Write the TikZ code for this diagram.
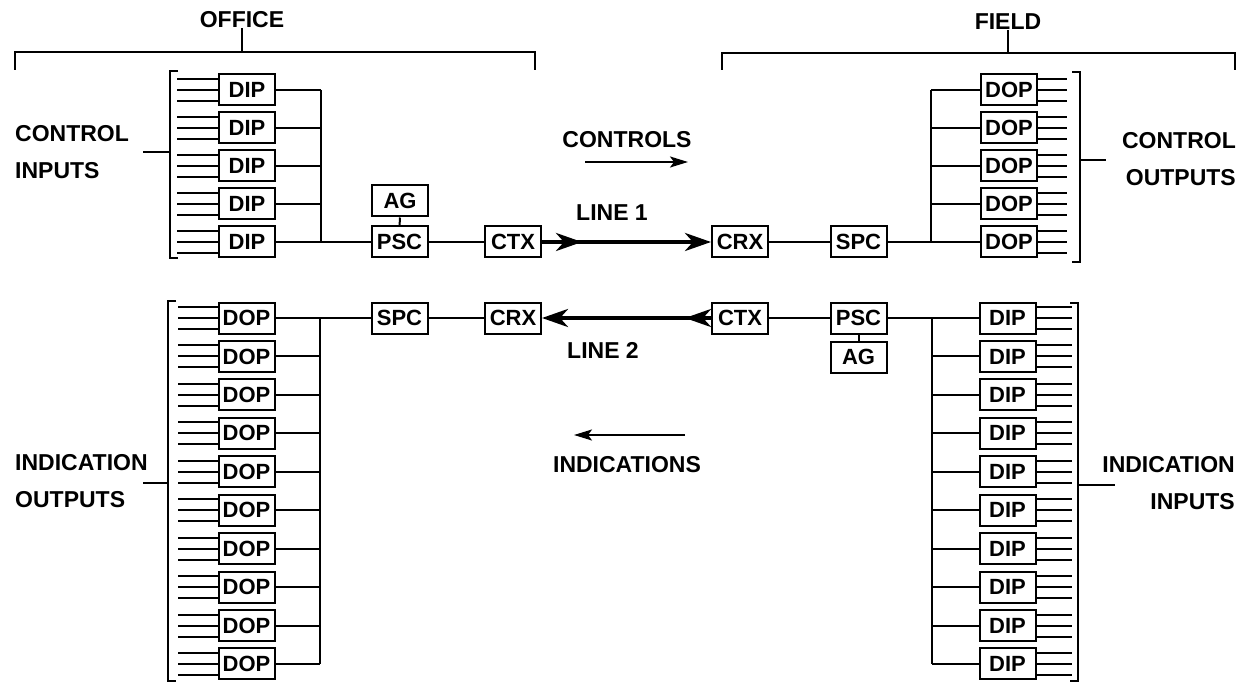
\documentclass[tikz,border=0pt]{standalone}
\usepackage{fontspec}
\setmainfont{Liberation Sans}
\usetikzlibrary{arrows.meta,decorations.markings}
\begin{document}
\begin{tikzpicture}[x=1pt,y=-1pt,
  box/.style={draw,line width=2pt,minimum width=56pt,minimum height=31pt,inner sep=0pt,font=\fontsize{22}{22}\selectfont\bfseries},
  lbl/.style={font=\fontsize{23}{37}\selectfont\bfseries,inner sep=0pt},
  wire/.style={line width=2pt},
  heavy/.style={line width=4pt,-{Stealth[length=26pt,width=18pt,inset=8pt]},
    postaction={decorate,decoration={markings,mark=at position #1 with {\arrow{Stealth[length=26pt,width=18pt,inset=8pt]}}}}},
  dirarrow/.style={line width=2pt,-{Stealth[length=18pt,width=11pt,inset=4pt]}}
]
\useasboundingbox (0,0) rectangle (1238,684);

% ---------- titles and brackets ----------
\node[lbl] (office) at (242,20) {OFFICE};
\node[lbl] (field) at (1008,22) {FIELD};
\draw[wire] (15,70) -- (15,52) -- (535,52) -- (535,70);
\draw[wire] (242,52) -- (office.south);
\draw[wire] (722,70) -- (722,53) -- (1235,53) -- (1235,70);
\draw[wire] (1008,53) -- (field.south);

% ---------- side labels ----------
\node[lbl,anchor=west,align=left] (ci) at (15,152) {CONTROL\\INPUTS};
\node[lbl,anchor=east,align=right] (co) at (1236,159) {CONTROL\\OUTPUTS};
\node[lbl,anchor=west,align=left] (io) at (15,481) {INDICATION\\OUTPUTS};
\node[lbl,anchor=east,align=right] (ii) at (1235,483) {INDICATION\\INPUTS};

% ---------- middle labels ----------
\node[lbl] (controls) at (627,140) {CONTROLS};
\node[lbl] (indications) at (627,465) {INDICATIONS};
\node[lbl] (line1) at (612,213) {LINE 1};
\node[lbl] (line2) at (603,350) {LINE 2};
\coordinate (ca) at (585,162); \coordinate (cb) at (688,162);
\draw[dirarrow] (ca) -- (cb);
\coordinate (ia) at (685,435); \coordinate (ib) at (574,435);
\draw[dirarrow] (ia) -- (ib);

% ---------- top left: DIP group ----------
\foreach \i in {1,...,5} {
  \pgfmathsetmacro{\yy}{90+38*(\i-1)}
  \node[box] (dipL\i) at (247,\yy) {DIP};
  \foreach \d in {-11,0,11}
    \draw[wire] ([yshift=\d pt]dipL\i.west) -- ++(-41,0);
  \draw[wire] (dipL\i.east) -- (321,\yy);
}
\draw[wire] (321,90) -- (321,242);
\draw[wire] (178,71) -- (170,71) -- (170,258) -- (178,258);
\draw[wire] (143,152) -- (170,152);

\node[box] (agL) at (400,201) {AG};
\node[box] (pscL) at (399.5,242) {PSC};
\node[box] (ctxL) at (513,242) {CTX};
\draw[wire] (dipL5.east) -- (pscL.west);
\draw[wire] (agL) -- (pscL);
\draw[wire] (pscL) -- (ctxL);

% ---------- top right: DOP group ----------
\node[box] (crxR) at (740,242) {CRX};
\node[box] (spcR) at (858.5,242) {SPC};
\foreach \i in {1,...,5} {
  \pgfmathsetmacro{\yy}{90+38*(\i-1)}
  \node[box] (dopR\i) at (1009,\yy) {DOP};
  \foreach \d in {-11,0,11}
    \draw[wire] ([yshift=\d pt]dopR\i.east) -- ++(29,0);
  \draw[wire] (dopR\i.west) -- (931,\yy);
}
\draw[wire] (931,90) -- (931,242);
\draw[wire] (1072,72) -- (1080,72) -- (1080,262) -- (1072,262);
\draw[wire] (1080,160) -- (1106,160);
\draw[wire] (crxR) -- (spcR);
\draw[wire] (spcR.east) -- (dopR5.west);

% ---------- line 1 ----------
\draw[heavy=40pt] (ctxL.east) -- (crxR.west);

% ---------- bottom left: DOP group ----------
\node[box] (spcL) at (399.5,318) {SPC};
\node[box] (crxL) at (513,318) {CRX};
\foreach \i in {1,...,10} {
  \pgfmathsetmacro{\yy}{318+38.44*(\i-1)}
  \node[box] (dopL\i) at (246.5,\yy) {DOP};
  \foreach \d in {-11,0,11}
    \draw[wire] ([yshift=\d pt]dopL\i.west) -- ++(-40,0);
  \draw[wire] (dopL\i.east) -- (320,\yy);
}
\draw[wire] (320,318) -- (320,664);
\draw[wire] (176,301) -- (168,301) -- (168,681) -- (176,681);
\draw[wire] (143,483) -- (168,483);
\draw[wire] (dopL1.east) -- (spcL.west);
\draw[wire] (spcL) -- (crxL);

% ---------- bottom right: DIP group ----------
\node[box] (ctxR) at (740,318) {CTX};
\node[box] (pscR) at (858.5,318) {PSC};
\node[box] (agR) at (858.5,357) {AG};
\foreach \i in {1,...,10} {
  \pgfmathsetmacro{\yy}{318+38.44*(\i-1)}
  \node[box] (dipR\i) at (1007.5,\yy) {DIP};
  \foreach \d in {-11,0,11}
    \draw[wire] ([yshift=\d pt]dipR\i.east) -- ++(35,0);
  \draw[wire] (dipR\i.west) -- (932,\yy);
}
\draw[wire] (932,318) -- (932,664);
\draw[wire] (1070,303) -- (1078,303) -- (1078,681) -- (1070,681);
\draw[wire] (1078,485) -- (1115,485);
\draw[wire] (ctxR) -- (pscR);
\draw[wire] (pscR) -- (agR);
\draw[wire] (pscR.east) -- (dipR1.west);

% ---------- line 2 ----------
\draw[heavy=26pt] (ctxR.west) -- (crxL.east);
\end{tikzpicture}
\end{document}
